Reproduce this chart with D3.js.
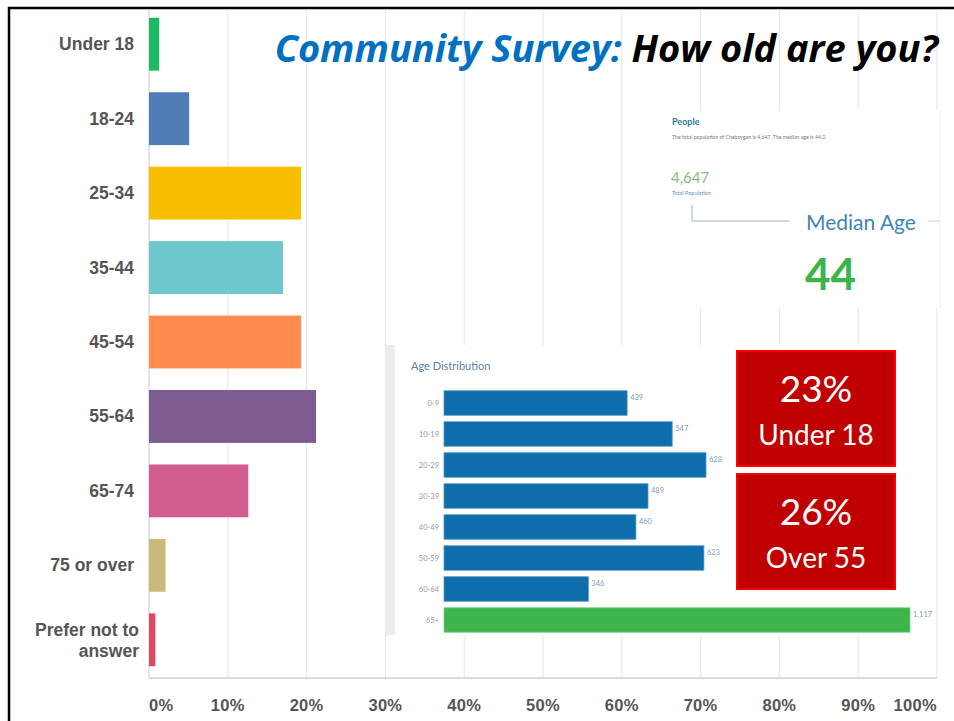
<!DOCTYPE html>
<html>
<head>
<meta charset="utf-8">
<script src="https://cdn.jsdelivr.net/npm/d3@7"></script>
<style>
  html, body { margin: 0; padding: 0; background: #fff; }
  svg { display: block; }
</style>
</head>
<body>
<svg id="chart" width="954" height="721"></svg>
<script>
// Survey answers: share of respondents in each age group (%)
const categories = ["Under 18", "18-24", "25-34", "35-44", "45-54", "55-64", "65-74", "75 or over", "Prefer not to answer"];
const percents   = [1.3, 5.1, 19.3, 17.0, 19.3, 21.2, 12.6, 2.1, 0.8];
const barColors  = ["#1db964", "#507cb6", "#f9be00", "#6cc8cc", "#ff8b4f", "#7d5d91", "#d25e8f", "#c9b97a", "#e0485f"];
const tickValues = [0, 10, 20, 30, 40, 50, 60, 70, 80, 90, 100];

// Census age distribution (people)
const ageBands  = ["0-9", "10-19", "20-29", "30-39", "40-49", "50-59", "60-64", "65+"];
const ageCounts = [439, 547, 628, 489, 460, 623, 346, 1117];
const totalPopulation = 4647;
const medianAge = 44;

// Highlight call-outs
const callouts = [
  { big: "23%", small: "Under 18" },
  { big: "26%", small: "Over 55" }
];

const svg = d3.select("#chart");

// ---------- main survey bar chart ----------
const x = d3.scaleLinear().domain([0, 100]).range([149, 937]);
const y = d3.scaleBand().domain(categories).range([7, 677]).paddingInner(0.29).paddingOuter(0.145);

// vertical gridlines
svg.append("g").selectAll("line").data(tickValues).join("line")
  .attr("x1", d => x(d)).attr("x2", d => x(d))
  .attr("y1", 10).attr("y2", 678)
  .attr("stroke", d => d === 0 ? "#d9d0d6" : "#e9e9e9").attr("stroke-width", 1.2);

// baseline
svg.append("line").attr("x1", x(0)).attr("x2", x(100)).attr("y1", 678).attr("y2", 678)
  .attr("stroke", "#cfcfcf").attr("stroke-width", 1.5);

// bars
svg.append("g").selectAll("rect").data(categories).join("rect")
  .attr("x", x(0))
  .attr("y", d => y(d))
  .attr("width", (d, i) => x(percents[i]) - x(0))
  .attr("height", y.bandwidth())
  .attr("fill", (d, i) => barColors[i]);

// category labels
const catLabels = svg.append("g")
  .attr("font-family", "'Liberation Sans', Arial, sans-serif")
  .attr("font-weight", "bold").attr("font-size", 17.5).attr("fill", "#555")
  .attr("text-anchor", "end");
categories.forEach(c => {
  const cy = y(c) + y.bandwidth() / 2;
  if (c === "Prefer not to answer") {
    catLabels.append("text").attr("x", 139).attr("y", cy - 4).text("Prefer not to");
    catLabels.append("text").attr("x", 139).attr("y", cy + 17).text("answer");
  } else {
    catLabels.append("text").attr("x", 134).attr("y", cy + 6).text(c);
  }
});

// tick labels
svg.append("g").selectAll("text").data(tickValues).join("text")
  .attr("x", d => x(d))
  .attr("y", 711)
  .attr("text-anchor", d => d === 0 ? "start" : d === 100 ? "end" : "middle")
  .attr("font-family", "'Liberation Sans', Arial, sans-serif")
  .attr("font-size", 16.5).attr("font-weight", "bold").attr("fill", "#555")
  .attr("letter-spacing", 0.3)
  .text(d => d + "%");

// title
const title = svg.append("text")
  .attr("x", 938).attr("y", 62).attr("text-anchor", "end")
  .attr("font-family", "'Open Sans', Lato, sans-serif")
  .attr("font-style", "italic").attr("font-weight", "bold").attr("font-size", 38);
title.append("tspan").attr("fill", "#0070c0").text("Community Survey: ");
title.append("tspan").attr("fill", "#000").text("How old are you?");

// ---------- "People" panel ----------
const people = svg.append("g").attr("font-family", "Lato, 'Open Sans', sans-serif");
people.append("rect").attr("x", 663).attr("y", 110).attr("width", 277).attr("height", 198).attr("fill", "#fff");
people.append("line").attr("x1", 940).attr("x2", 940).attr("y1", 110).attr("y2", 308).attr("stroke", "#f0f0f0");
people.append("text").attr("x", 672).attr("y", 125).attr("font-size", 9).attr("font-weight", "bold")
  .attr("fill", "#2c7a92").text("People");
people.append("text").attr("x", 672).attr("y", 139).attr("font-size", 5.2).attr("fill", "#777")
  .text("The total population of Cheboygan is 4,647. The median age is 44.2.");
people.append("text").attr("x", 671).attr("y", 183).attr("font-size", 15).attr("fill", "#86bd78")
  .text(d3.format(",")(totalPopulation));
people.append("text").attr("x", 672).attr("y", 195).attr("font-size", 5.5).attr("fill", "#6a8fb5")
  .text("Total Population");
people.append("path").attr("d", "M692,205V221H790").attr("fill", "none").attr("stroke", "#9fb3c4").attr("stroke-width", 1);
people.append("line").attr("x1", 928).attr("x2", 940).attr("y1", 221).attr("y2", 221).attr("stroke", "#c9d6e0");
people.append("text").attr("x", 806).attr("y", 230).attr("font-size", 21).attr("fill", "#3f84b8")
  .text("Median Age");
people.append("text").attr("x", 805).attr("y", 290).attr("font-size", 44).attr("font-weight", "bold")
  .attr("fill", "#3bb44a").text(medianAge);

// ---------- Age distribution panel ----------
const dist = svg.append("g").attr("font-family", "Lato, 'Open Sans', sans-serif");
dist.append("rect").attr("x", 385).attr("y", 345).attr("width", 547).attr("height", 290).attr("fill", "#fff");
dist.append("rect").attr("x", 385).attr("y", 345).attr("width", 10).attr("height", 290).attr("fill", "#ececec");
dist.append("text").attr("x", 411).attr("y", 370).attr("font-size", 11).attr("fill", "#5f7f9e")
  .text("Age Distribution");

const x2 = d3.scaleLinear().domain([0, 1117]).range([444, 910]);
const y2 = d3.scaleBand().domain(ageBands).range([387.5, 635.5]).paddingInner(0.21).paddingOuter(0.105);

dist.append("g").selectAll("rect").data(ageBands).join("rect")
  .attr("x", x2(0))
  .attr("y", d => y2(d))
  .attr("width", (d, i) => x2(ageCounts[i]) - x2(0))
  .attr("height", y2.bandwidth())
  .attr("fill", (d, i) => i === ageBands.length - 1 ? "#3db54a" : "#0e6dab")
  .attr("stroke", (d, i) => i === ageBands.length - 1 ? "#7fd08a" : "#4f95c6")
  .attr("stroke-width", 0.8);

dist.append("g").selectAll("text").data(ageBands).join("text")
  .attr("x", 439).attr("y", d => y2(d) + y2.bandwidth() / 2 + 3)
  .attr("text-anchor", "end").attr("font-size", 7.5).attr("fill", "#9a9a9a")
  .text(d => d);

dist.append("g").selectAll("text").data(ageBands).join("text")
  .attr("x", (d, i) => x2(ageCounts[i]) + 3)
  .attr("y", d => y2(d) + 9)
  .attr("font-size", 7.5).attr("fill", "#7d9bbb")
  .text((d, i) => d3.format(",")(ageCounts[i]));

// ---------- red call-out boxes ----------
const boxTops = [351, 474];
callouts.forEach((c, i) => {
  const g = svg.append("g").attr("transform", `translate(737,${boxTops[i]})`)
    .attr("font-family", "Lato, 'Open Sans', sans-serif").attr("fill", "#fff").attr("text-anchor", "middle");
  g.append("rect").attr("width", 158).attr("height", 115)
    .attr("fill", "#c00000").attr("stroke", "#ff0000").attr("stroke-width", 2);
  g.append("text").attr("x", 79).attr("y", 51).attr("font-size", 37).text(c.big);
  g.append("text").attr("x", 79).attr("y", 94).attr("font-size", 28).text(c.small);
});

// frame
svg.append("path").attr("d", "M9,721V8H954").attr("fill", "none").attr("stroke", "#000").attr("stroke-width", 2.5);
</script>
</body>
</html>
